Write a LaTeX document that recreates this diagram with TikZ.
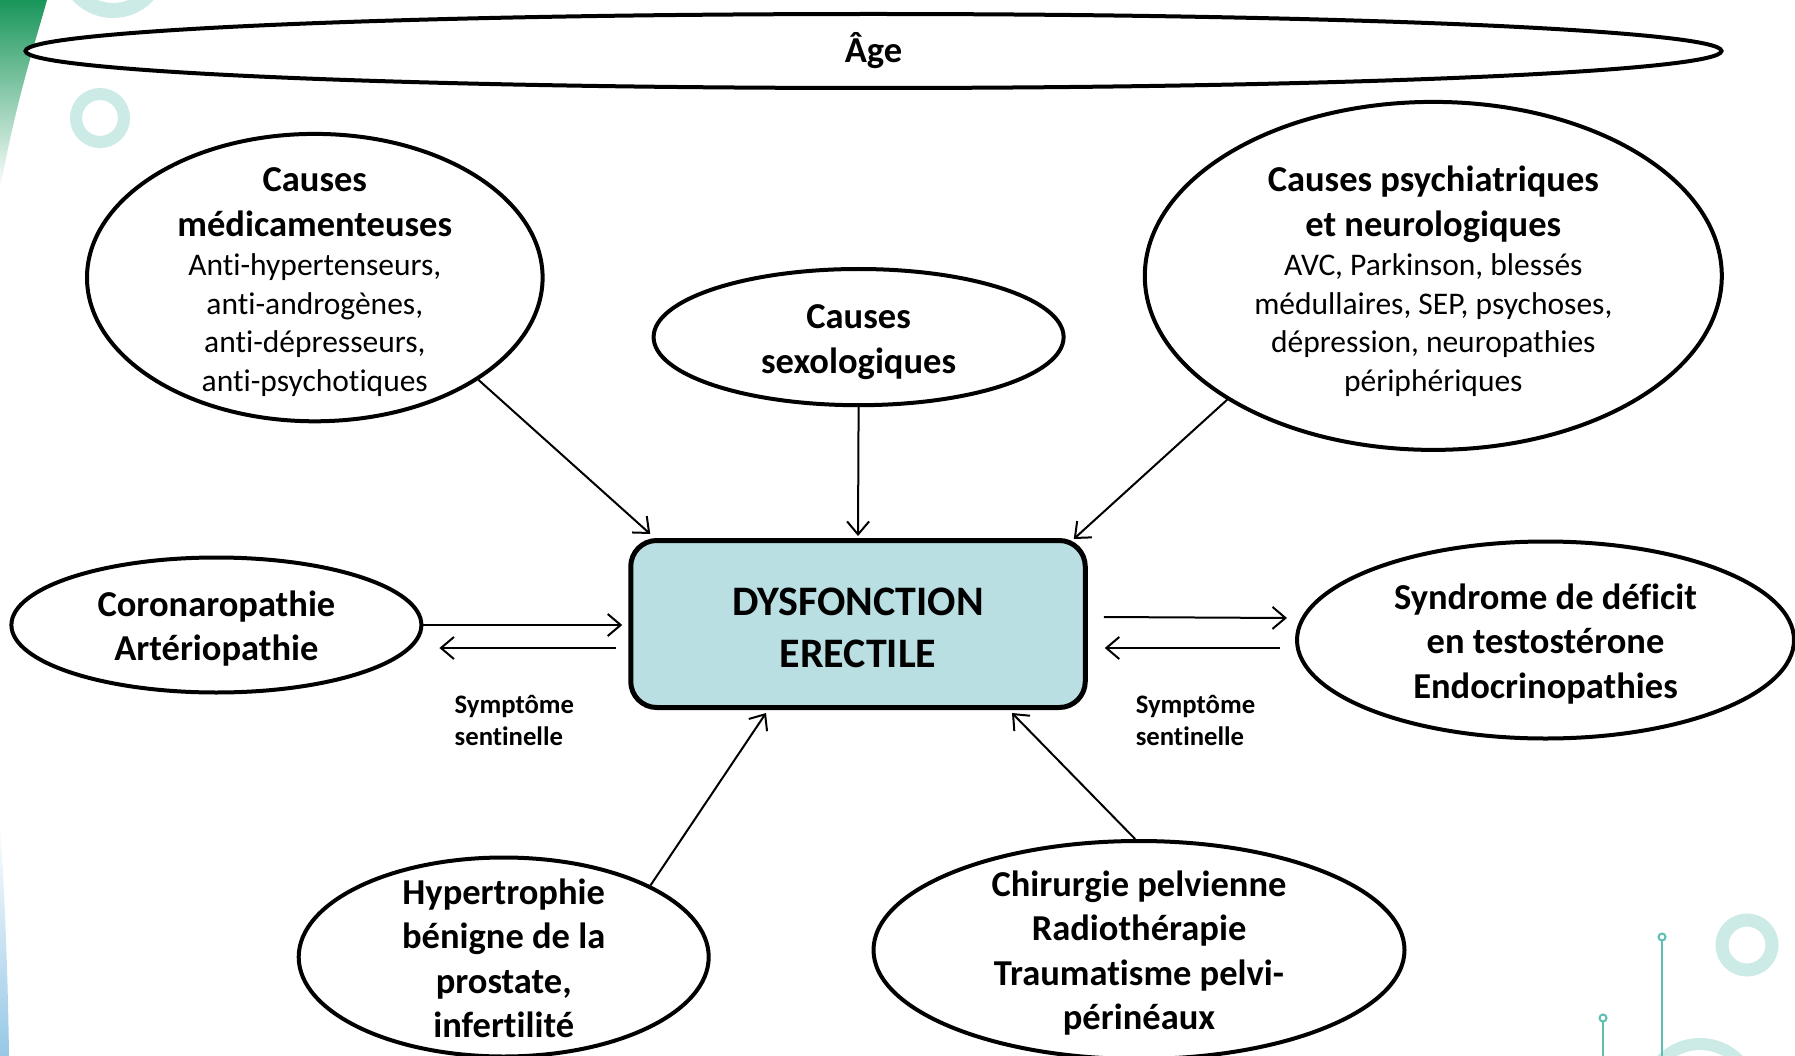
\documentclass[tikz,border=0pt]{standalone}
\usepackage{fontspec}
\setmainfont{Carlito}[Ligatures=NoCommon]
\usetikzlibrary{arrows.meta,shapes.geometric,calc}
\definecolor{boxfill}{RGB}{185,223,227}
\definecolor{ringc}{RGB}{204,234,230}
\definecolor{linec}{RGB}{94,190,178}
\definecolor{greenA}{RGB}{25,150,90}
\definecolor{tealA}{RGB}{85,175,150}
\definecolor{blueA}{RGB}{150,200,230}
\newcommand\myhead{\fontsize{36.5}{44.6}\selectfont\bfseries}
\newcommand\mybody{\fontsize{31.5}{38.6}\selectfont\mdseries}
\newcommand\mysmall{\fontsize{26.7}{32}\selectfont\bfseries}
\begin{document}
\begin{tikzpicture}[x=1pt,y=-1pt,
  ell/.style={draw=black, line width=4pt, ellipse, inner sep=0pt, fill=white},
  htxt/.style={align=center, inner sep=0pt, font=\myhead},
  btxt/.style={align=center, inner sep=0pt, font=\mybody},
  arr/.style={line width=2pt, -{Straight Barb[length=13pt,width=22pt,line width=2pt]}},
  debox/.style={draw, line width=5pt, rounded corners=26pt, fill=boxfill, inner sep=0pt},
  detxt/.style={align=center, inner sep=0pt, font=\fontsize{42}{51.5}\selectfont\bfseries},
  lbl/.style={align=left, anchor=west, inner sep=0pt, font=\mysmall}
]
\useasboundingbox (0,0) rectangle (1795,1056);
\fill[white] (0,0) rectangle (1795,1056);
% decorations
\shade[top color=greenA, middle color=tealA, bottom color=white] (0,0) -- (47,0) .. controls (36,40) and (16,100) .. (0,190) -- cycle;
\shade[top color=white, bottom color=blueA] (0,820) .. controls (5,900) and (8,980) .. (9,1056) -- (0,1056) -- cycle;
\draw[ringc, line width=15pt] (113,-37) circle[radius=47.5];
\draw[ringc, line width=12pt] (100,118) circle[radius=24];
\draw[ringc, line width=13pt] (1747,945) circle[radius=25];
\draw[ringc, line width=12pt] (1700,1098) circle[radius=54];
\draw[linec, line width=2.5pt] (1662,941) -- (1662,1056);
\draw[linec, line width=2pt, fill=white] (1662,937) circle[radius=3.5];
\draw[linec, line width=2.5pt] (1603,1022) -- (1603,1056);
\draw[linec, line width=2pt, fill=white] (1603,1018) circle[radius=3.5];
% nodes
\node[ell, minimum width=1696pt, minimum height=74pt] (age) at (873.5,51) {};
\node[htxt] (ageT) at (873.5,51) {Âge};
\node[ell, minimum width=455.6pt, minimum height=287.4pt] (med) at (314.8,277.6) {};
\node[htxt] (medH) at (314.8,202.2) {Causes\\médicamenteuses};
\node[btxt] (medB) at (314.8,325) {Anti-hypertenseurs,\\anti-androgènes,\\anti-dépresseurs,\\anti-psychotiques};
\node[ell, minimum width=410pt, minimum height=136.2pt] (sex) at (858.6,337.1) {};
\node[htxt] (sexT) at (858.6,342) {Causes\\sexologiques};
\node[ell, minimum width=577pt, minimum height=348pt] (psy) at (1433.3,275.9) {};
\node[htxt] (psyH) at (1433.3,204.5) {Causes psychiatriques\\et neurologiques};
\node[btxt] (psyB) at (1433.3,325) {AVC, Parkinson, blessés\\médullaires, SEP, psychoses,\\dépression, neuropathies\\périphériques};
\node[ell, minimum width=410pt, minimum height=135pt] (cor) at (216.4,625) {};
\node[htxt] (corT) at (216.4,628.7) {Coronaropathie\\Artériopathie};
\node[debox, minimum width=454.5pt, minimum height=167pt] (de) at (858,624) {};
\node[detxt] (deT) at (858,628) {DYSFONCTION\\ERECTILE};
\node[ell, minimum width=497pt, minimum height=197pt] (syn) at (1545.5,640) {};
\node[htxt] (synT) at (1545.5,644) {Syndrome de déficit\\en testostérone\\Endocrinopathies};
\node[ell, minimum width=410pt, minimum height=199pt] (hyp) at (503.7,957) {};
\node[htxt] (hypT) at (503.7,958.3) {Hypertrophie\\bénigne de la\\prostate,\\infertilité};
\node[ell, minimum width=531pt, minimum height=218pt] (chi) at (1139,950) {};
\node[htxt] (chiT) at (1139,953) {Chirurgie pelvienne\\Radiothérapie\\Traumatisme pelvi-\\périnéaux};
\node[lbl] (s1) at (454.5,720) {Symptôme\\sentinelle};
\node[lbl] (s2) at (1135.6,720) {Symptôme\\sentinelle};
% arrows
\draw[arr] (med.-32) -- ($(de.north west)+(22,-4)$);
\draw[arr] (sex.south) -- ($(de.north)+(0,-2)$);
\draw[arr] (psy.211) -- ($(de.north east)+(-14,1)$);
\draw[arr] (cor.east) -- ($(cor.east -| de.west)+(-6,0)$);
\draw[arr] ($(de.west)+(-12,24)$) -- ($(cor.east)+(16,23)$);
\draw[arr] ($(de.east)+(16,-7)$) -- ($(syn.west)+(-8,-22)$);
\draw[arr] ($(syn.west)+(-15,8)$) -- ($(de.east)+(17,24)$);
\draw[arr] (hyp.26) -- ($(de.south)+(-92,3)$);
\draw[arr] (chi.92) -- ($(de.south)+(154,3)$);
\end{tikzpicture}
\end{document}
